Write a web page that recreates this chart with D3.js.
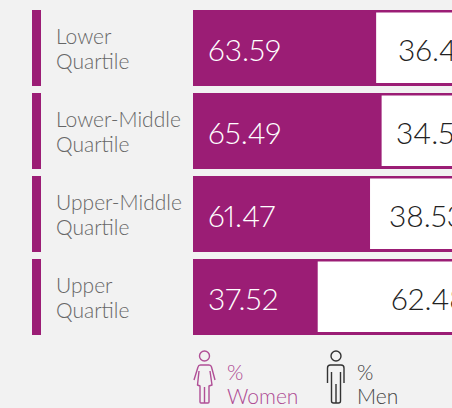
<!DOCTYPE html>
<html>
<head>
<meta charset="utf-8">
<script src="https://cdnjs.cloudflare.com/ajax/libs/d3/7.8.5/d3.min.js"></script>
<style>
  html, body { margin: 0; padding: 0; background: #f2f2f2; overflow: hidden; }
  text { font-family: Lato, sans-serif; font-weight: 300; font-feature-settings: "pnum"; }
</style>
</head>
<body>
<div class="chart"></div>
<script>
// pay quartiles, % women against % men
var quartiles = [["Lower", "Quartile"], ["Lower-Middle", "Quartile"], ["Upper-Middle", "Quartile"], ["Upper", "Quartile"]];
var womenLabels = ["63.59", "65.49", "61.47", "37.52"];
var menLabels = ["36.41", "34.51", "38.53", "62.48"];
// bar lengths as drawn in the picture, the last one is longer than its label says
var womenBars = [63.59, 65.49, 61.47, 43.3];

var purple = "#9b1d75";
var width = 452, height = 408;

var canvas = d3.select(".chart").append("svg")
  .attr("width", width)
  .attr("height", height)
  .style("display", "block");

canvas.append("rect")
  .attr("width", width)
  .attr("height", height)
  .attr("fill", "#f2f2f2");

var rows = d3.range(quartiles.length);

// rows sit 83px apart, bars 76px tall
var y = d3.scaleBand()
  .domain(rows)
  .range([10, 335])
  .paddingInner(7 / 83)
  .paddingOuter(0);

// the chart runs off the right side of the window
var x = d3.scaleLinear()
  .domain([0, 100])
  .range([193, 481]);

var row = canvas.selectAll("g.row").data(rows).enter()
  .append("g")
  .attr("class", "row")
  .attr("transform", function(d) { return "translate(0," + y(d) + ")"; });

var barH = y.bandwidth();
var menTextX = [398, 396, 389, 391];

// accent bar
row.append("rect")
  .attr("x", 32)
  .attr("width", 9)
  .attr("height", barH)
  .attr("fill", purple);

// row labels, two lines
row.each(function(d) {
  var t = d3.select(this).append("text")
    .attr("font-size", 21)
    .attr("fill", "#666666");
  quartiles[d].forEach(function(line, i) {
    t.append("tspan")
      .attr("x", 56)
      .attr("y", 34 + i * 25)
      .text(line);
  });
});

// purple background for whole bar
row.append("rect")
  .attr("x", x(0))
  .attr("width", x(100) - x(0))
  .attr("height", barH)
  .attr("fill", purple);

// men segment, white with a purple edge
row.append("rect")
  .attr("x", function(d) { return x(womenBars[d]); })
  .attr("y", 2.5)
  .attr("width", function(d) { return x(100) - x(womenBars[d]); })
  .attr("height", barH - 5.5)
  .attr("fill", "#ffffff");

row.append("text")
  .attr("x", 208)
  .attr("y", 51)
  .attr("font-size", 30)
  .attr("fill", "#ffffff")
  .text(function(d) { return womenLabels[d]; });

row.append("text")
  .attr("x", function(d) { return menTextX[d]; })
  .attr("y", 51)
  .attr("font-size", 30)
  .attr("fill", "#222222")
  .text(function(d) { return menLabels[d]; });

// legend
var legend = canvas.append("g")
  .attr("fill", "none")
  .attr("stroke-width", 1.4)
  .attr("stroke-linejoin", "round");

var womanIcon = legend.append("g").attr("stroke", "#b04f96");
womanIcon.append("circle").attr("cx", 204.5).attr("cy", 356).attr("r", 5);
womanIcon.append("path")
  .attr("d", "M194 380L198 367Q198.500 365 200.500 365L209 365Q211 365 211.500 367L215 380M199 371L197.500 385L200 386L200 402Q200 403 201 403L208 403Q209 403 209 402L209 386L212 385L210 371M204.500 387L204.500 403");

var manIcon = legend.append("g").attr("stroke", "#333333");
manIcon.append("circle").attr("cx", 336).attr("cy", 356).attr("r", 5);
manIcon.append("path")
  .attr("d", "M327.500 383L327.500 368Q327.500 365 330.500 365L341 365Q344 365 344 368L344 383M331.500 372L331.500 401Q331.500 403 333.500 403L338.500 403Q340.500 403 340.500 401L340.500 372M336 384L336 403");

var legendText = [
  { x: 227, color: "#ae4a93", lines: ["%", "Women"] },
  { x: 357, color: "#444444", lines: ["%", "Men"] }
];

legendText.forEach(function(l) {
  l.lines.forEach(function(line, i) {
    canvas.append("text")
      .attr("x", l.x)
      .attr("y", 380 + i * 24)
      .attr("font-size", 21)
      .attr("fill", l.color)
      .text(line);
  });
});
</script>
</body>
</html>
